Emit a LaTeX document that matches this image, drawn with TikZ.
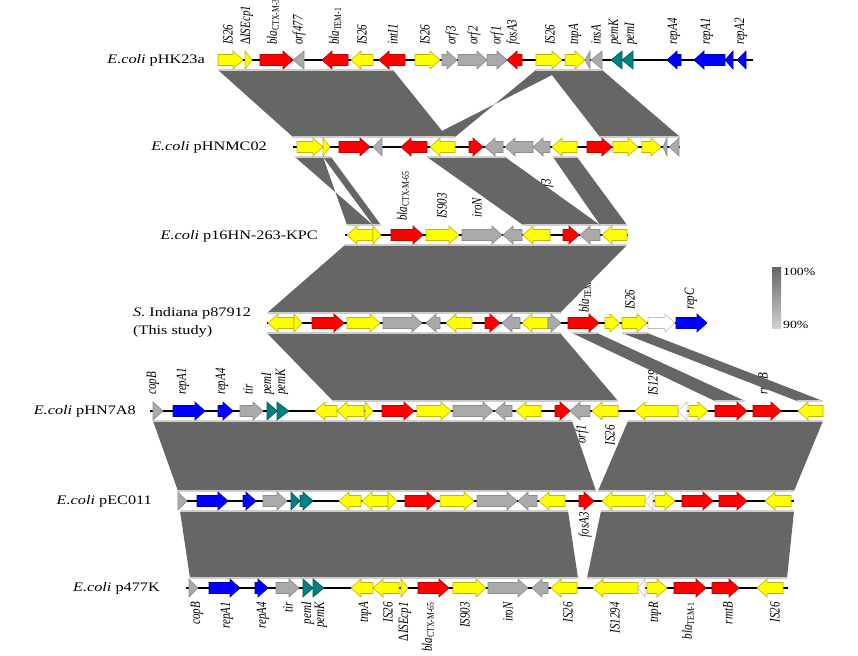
\documentclass[tikz,border=0pt]{standalone}
\usepackage{fontspec}
\usepackage{graphicx}
\setmainfont{Liberation Serif}
\newfontfamily\wide[FakeStretch=1.25]{Liberation Serif}
\definecolor{blockgray}{RGB}{102,102,102}
\definecolor{bandline}{RGB}{205,205,205}
\definecolor{cY}{RGB}{255,255,0}
\definecolor{cYd}{RGB}{190,180,0}
\definecolor{cR}{RGB}{255,0,0}
\definecolor{cRd}{RGB}{190,0,0}
\definecolor{cG}{RGB}{170,170,170}
\definecolor{cGd}{RGB}{140,140,140}
\definecolor{cT}{RGB}{0,128,128}
\definecolor{cTd}{RGB}{0,90,90}
\definecolor{cB}{RGB}{0,0,255}
\definecolor{cBd}{RGB}{0,0,170}
\definecolor{cWd}{RGB}{190,190,190}
\tikzset{
  gY/.style={fill=cY,draw=cYd,line width=0.6pt,line join=miter},
  gR/.style={fill=cR,draw=cRd,line width=0.6pt},
  gG/.style={fill=cG,draw=cGd,line width=0.6pt},
  gT/.style={fill=cT,draw=cTd,line width=0.6pt},
  gB/.style={fill=cB,draw=cBd,line width=0.6pt},
  gW/.style={fill=white,draw=cWd,line width=0.6pt},
  glab/.style={rotate=90,inner sep=0pt,font=\fontsize{11}{12}\selectfont\itshape},
  rowlab/.style={inner sep=0pt,font=\wide\fontsize{13}{18}\selectfont},
  leglab/.style={inner sep=0pt,font=\wide\fontsize{11}{12}\selectfont},
  backbone/.style={line width=1.5pt,black},
}
\newcounter{nl}
\newcommand\ry{60}
\newcommand\geneR[3]{%
  \pgfmathsetmacro\hx{((#2)-(#1))>12 ? (#2)-10 : (#1)}%
  \draw[#3] (#1,\ry-5.5) -- (\hx,\ry-5.5) -- (\hx,\ry-9) -- (#2,\ry) -- (\hx,\ry+9) -- (\hx,\ry+5.5) -- (#1,\ry+5.5) -- cycle;}
\newcommand\geneL[3]{%
  \pgfmathsetmacro\hx{((#2)-(#1))>12 ? (#1)+10 : (#2)}%
  \draw[#3] (#2,\ry-5.5) -- (\hx,\ry-5.5) -- (\hx,\ry-9) -- (#1,\ry) -- (\hx,\ry+9) -- (\hx,\ry+5.5) -- (#2,\ry+5.5) -- cycle;}
\newcommand\labU[3]{\stepcounter{nl}\node[glab,anchor=west] (gl\arabic{nl}) at (#1,#2) {\scalebox{1}[1.3]{#3}};}
\newcommand\labD[3]{\stepcounter{nl}\node[glab,anchor=east] (gl\arabic{nl}) at (#1,#2) {\scalebox{1}[1.3]{#3}};}
\newcommand\blaG[1]{\textit{bla}\textsubscript{\upshape #1}}
\newcommand\blk[6]{%
  \fill[blockgray] (#3,#1) -- (#4,#1) -- (#6,#2) -- (#5,#2) -- cycle;
  \draw[bandline,line width=1.2pt] (#3,#1) -- (#4,#1) (#5,#2) -- (#6,#2);}
\newcommand\inv[6]{%
  \fill[blockgray] (#3,#1) -- (#4,#1) -- (#5,#2) -- (#6,#2) -- cycle;
  \draw[bandline,line width=1.2pt] (#3,#1) -- (#4,#1) (#5,#2) -- (#6,#2);}
\begin{document}
\begin{tikzpicture}[x=1pt,y=-1pt]
\useasboundingbox[fill=white] (0,0) rectangle (858,655);

% ---------- gene labels (drawn first, blocks may overlap) ----------
% row 1
\labU{228}{45}{IS26}
\labU{247}{45}{{\upshape Δ}ISEcp1}
\labU{273}{45}{\blaG{CTX-M-3}}
\labU{299}{45}{orf477}
\labU{335}{45}{\blaG{TEM-1}}
\labU{362}{45}{IS26}
\labU{393}{45}{intI1}
\labU{425}{45}{IS26}
\labU{452}{45}{orf3}
\labU{474}{45}{orf2}
\labU{497}{45}{orf1}
\labU{513}{45}{fosA3}
\labU{550}{45}{IS26}
\labU{575}{45}{tnpA}
\labU{596}{45}{insA}
\labU{615}{45}{pemK}
\labU{631}{45}{pemI}
\labU{674}{45}{repA4}
\labU{707}{45}{repA1}
\labU{741}{45}{repA2}
% row 2 (below)
\labD{526}{176}{orf2}
\labD{547}{179}{orf3}
% row 3 (above)
\labU{403}{221}{\blaG{CTX-M-65}}
\labU{442}{219}{IS903}
\labU{477}{218}{iroN}
% row 4 (above)
\labU{585}{313}{\blaG{TEM-1}}
\labU{630}{310}{IS26}
\labU{691}{310}{repC}
% row 5 (above)
\labU{153}{395}{copB}
\labU{183}{395}{repA1}
\labU{222}{395}{repA4}
\labU{248}{395}{tir}
\labU{268}{395}{pemI}
\labU{282}{395}{pemK}
\labU{653}{396}{IS1294}
\labU{763}{395}{rmtB}
% row 5 (below)
\labD{582}{425}{orf1}
\labD{610}{425}{IS26}
% row 6 (below)
\labD{585}{512}{fosA3}
% row 7 (below)
\labD{197}{602}{copB}
\labD{227}{602}{repA1}
\labD{263}{602}{repA4}
\labD{288}{602}{tir}
\labD{308}{602}{pemI}
\labD{321}{602}{pemK}
\labD{365}{602}{tnpA}
\labD{388}{602}{IS26}
\labD{405}{602}{{\upshape Δ}ISEcp1}
\labD{428}{602}{\blaG{CTX-M-65}}
\labD{465}{602}{IS903}
\labD{508}{602}{iroN}
\labD{568}{602}{IS26}
\labD{615}{602}{IS1294}
\labD{655}{602}{tnpR}
\labD{688}{602}{\blaG{TEM-1}}
\labD{728}{602}{rmtB}
\labD{775}{602}{IS26}

% ---------- comparison blocks ----------
% row1 -> row2
\blk{70}{137}{218}{393}{293}{447}
\inv{70}{137}{536}{562}{430}{455}
\blk{70}{137}{548}{602}{600}{680}
% row2 -> row3
\inv{157}{225}{295}{323}{347}{373}
\blk{157}{225}{323}{331}{373}{381}
\blk{157}{225}{427}{505}{523}{600}
\blk{157}{225}{553}{577}{600}{627}
% row3 -> row4
\blk{245}{313}{345}{627}{267}{560}
% row4 -> row5
\blk{333}{401}{267}{560}{333}{618}
\blk{333}{401}{572}{597}{715}{745}
\blk{333}{401}{622}{647}{797}{823}
% row5 -> row6
\blk{421}{491}{153}{572}{178}{596}
\blk{421}{491}{628}{823}{598}{794}
% row6 -> row7
\blk{511}{578}{180}{568}{190}{578}
\blk{511}{578}{601}{794}{587}{787}

% ---------- row labels ----------
\node[rowlab,anchor=east] (n1) at (205,60) {\textit{E.coli} pHK23a};
\node[rowlab,anchor=east] (n2) at (267,147) {\textit{E.coli} pHNMC02};
\node[rowlab,anchor=east] (n3) at (318,236) {\textit{E.coli} p16HN-263-KPC};
\node[rowlab,anchor=west,align=left] (n4) at (133,322) {\textit{S.} Indiana p87912\\(This study)};
\node[rowlab,anchor=east] (n5) at (136,411) {\textit{E.coli} pHN7A8};
\node[rowlab,anchor=east] (n6) at (152,501) {\textit{E.coli} pEC011};
\node[rowlab,anchor=east] (n7) at (160,588) {\textit{E.coli} p477K};

% ---------- row 1 ----------
\renewcommand\ry{60}
\draw[backbone] (218,\ry) -- (753,\ry);
\geneR{218}{243}{gY}\geneR{245}{252}{gY}\geneR{260}{293}{gR}\geneL{293}{304}{gG}
\geneL{322}{348}{gR}\geneL{351}{373}{gY}\geneL{379}{405}{gR}\geneR{415}{440}{gY}
\geneR{442}{457}{gG}\geneR{458}{487}{gG}\geneR{487}{507}{gG}\geneL{507}{522}{gR}
\geneR{536}{562}{gY}\geneR{565}{585}{gY}\geneL{585}{590}{gG}\geneL{591}{602}{gG}
\geneL{611}{622}{gT}\geneL{622}{633}{gT}\geneL{667}{681}{gB}\geneL{694}{725}{gB}
\geneL{725}{733}{gB}\geneL{737}{746}{gB}

% ---------- row 2 ----------
\renewcommand\ry{147}
\draw[backbone] (293,\ry) -- (680,\ry);
\geneR{297}{323}{gY}\geneR{323}{330}{gY}\geneR{339}{370}{gR}\geneL{373}{382}{gG}
\geneL{401}{427}{gR}\geneL{430}{455}{gY}\geneR{469}{483}{gR}\geneL{485}{503}{gG}
\geneL{505}{533}{gG}\geneL{533}{550}{gG}\geneL{552}{577}{gY}\geneR{587}{612}{gR}
\geneR{613}{638}{gY}\geneR{642}{661}{gY}\geneL{663}{667}{gG}\geneL{669}{679}{gG}

% ---------- row 3 ----------
\renewcommand\ry{235}
\draw[backbone] (345,\ry) -- (628,\ry);
\geneL{347}{373}{gY}\geneR{373}{381}{gY}\geneR{391}{423}{gR}\geneR{426}{459}{gY}
\geneR{462}{502}{gG}\geneL{503}{522}{gG}\geneL{523}{550}{gY}\geneR{563}{579}{gR}
\geneL{580}{600}{gG}\geneL{602}{627}{gY}

% ---------- row 4 ----------
\renewcommand\ry{323}
\draw[backbone] (267,\ry) -- (707,\ry);
\geneL{268}{294}{gY}\geneR{294}{302}{gY}\geneR{312}{344}{gR}\geneR{347}{380}{gY}
\geneR{383}{422}{gG}\geneL{426}{440}{gG}\geneL{446}{472}{gY}\geneR{485}{500}{gR}
\geneL{502}{520}{gG}\geneL{522}{548}{gY}\geneR{548}{561}{gG}\geneR{568}{599}{gR}
\geneR{605}{620}{gY}\geneR{622}{647}{gY}\geneR{648}{675}{gW}\geneR{676}{707}{gB}

% ---------- row 5 ----------
\renewcommand\ry{411}
\draw[backbone] (150,\ry) -- (823,\ry);
\geneR{153}{163}{gG}\geneR{173}{205}{gB}\geneR{218}{233}{gB}\geneR{240}{263}{gG}
\geneR{267}{277}{gT}\geneR{277}{289}{gT}\geneL{315}{337}{gY}\geneL{337}{364}{gY}
\geneR{365}{373}{gY}\geneR{382}{414}{gR}\geneR{417}{451}{gY}\geneR{453}{493}{gG}
\geneL{495}{512}{gG}\geneL{516}{541}{gY}\geneR{555}{570}{gR}\geneL{570}{590}{gG}
\geneL{592}{618}{gY}\geneL{635}{678}{gY}\geneL{678}{687}{gW}\geneR{689}{708}{gY}
\geneR{715}{747}{gR}\geneR{753}{781}{gR}\geneL{798}{823}{gY}

% ---------- row 6 ----------
\renewcommand\ry{501}
\draw[backbone] (178,\ry) -- (794,\ry);
\geneR{178}{187}{gG}\geneR{197}{228}{gB}\geneR{243}{256}{gB}\geneR{263}{287}{gG}
\geneR{291}{300}{gT}\geneR{300}{313}{gT}\geneL{339}{361}{gY}\geneL{362}{388}{gY}
\geneR{388}{397}{gY}\geneR{405}{437}{gR}\geneR{440}{474}{gY}\geneR{477}{517}{gG}
\geneL{518}{537}{gG}\geneL{539}{565}{gY}\geneR{579}{594}{gR}\geneL{602}{645}{gY}
\geneL{645}{653}{gW}\geneR{655}{675}{gY}\geneR{682}{713}{gR}\geneR{719}{747}{gR}
\geneL{765}{791}{gY}

% ---------- row 7 ----------
\renewcommand\ry{588}
\draw[backbone] (186,\ry) -- (788,\ry);
\geneR{189}{198}{gG}\geneR{209}{240}{gB}\geneR{255}{268}{gB}\geneR{276}{299}{gG}
\geneR{303}{313}{gT}\geneR{313}{324}{gT}\geneL{351}{373}{gY}\geneL{373}{399}{gY}
\geneR{401}{408}{gY}\geneR{418}{449}{gR}\geneR{453}{486}{gY}\geneR{488}{528}{gG}
\geneL{532}{548}{gG}\geneL{551}{577}{gY}\geneL{593}{638}{gY}\geneL{638}{645}{gW}
\geneR{647}{667}{gY}\geneR{674}{706}{gR}\geneR{712}{739}{gR}\geneL{757}{783}{gY}

% ---------- legend ----------
\shade[top color=blockgray,bottom color=black!18] (772,267) rectangle (781,328);
\node[leglab,anchor=west] (l100) at (783,272) {100\%};
\node[leglab,anchor=west] (l90) at (783,325) {90\%};
\end{tikzpicture}
\end{document}
